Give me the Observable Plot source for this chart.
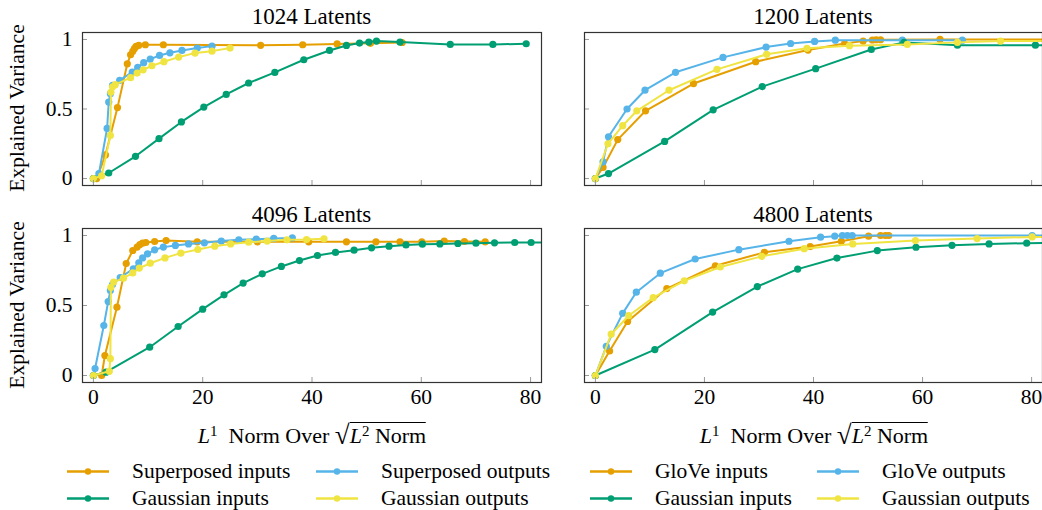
<!DOCTYPE html>
<html><head><meta charset="utf-8">
<script src="https://cdn.jsdelivr.net/npm/d3@7"></script>
<script src="https://cdn.jsdelivr.net/npm/@observablehq/plot@0.6"></script>
<style>
body{margin:0;background:#fff;}
#root{position:relative;width:1042px;height:510px;overflow:hidden;font-family:"Liberation Serif","DejaVu Serif",serif;color:#000;background:#fff;}
.abs{position:absolute;white-space:nowrap;}
.title{font-size:23px;transform:translate(-50%,-50%);}
.ylab{font-size:21.5px;transform:translate(-50%,-50%) rotate(-90deg);}
.xlab{font-size:22px;transform:translate(-50%,-50%);}
.leg{font-size:21.5px;display:flex;align-items:center;transform:translateY(-50%);}
.leg svg{margin-right:23px;}
sup{font-size:15px;vertical-align:0.5em;line-height:0;}
.rsign{font-size:27px;line-height:0;position:relative;top:1px;}
.rad{border-top:1.3px solid #000;padding-top:0px;}
</style></head>
<body><div id="root"></div>
<script>
// ---- labels / ticks ----
const xTicks = [0, 20, 40, 60, 80];
const yTicks = [0, 0.5, 1];
const panelTitles = ["1024 Latents", "1200 Latents", "4096 Latents", "4800 Latents"];
const legendLeft = ["Superposed inputs", "Superposed outputs", "Gaussian inputs", "Gaussian outputs"];
const legendRight = ["GloVe inputs", "GloVe outputs", "Gaussian inputs", "Gaussian outputs"];
const seriesColors = ["#E69F00", "#56B4E9", "#009E73", "#F0E442"];
const yTitle = "Explained Variance";

// ---- data: [L1/sqrt(L2), explained variance] ----
// 1024 latents
const sup_in_1024 = [[0,0],[0.6,0],[2.2,0.17],[4.4,0.51],[6.2,0.825],[6.8,0.89],[7.2,0.915],[7.5,0.935],[7.8,0.95],[8.3,0.958],[9.5,0.962],[12.8,0.962],[30.6,0.958],[38.3,0.962],[44.6,0.968],[50.7,0.972],[56.5,0.978]];
const sup_out_1024 = [[0,0],[1.0,0.035],[2.5,0.36],[2.8,0.55],[3.1,0.61],[3.5,0.67],[4.8,0.706],[7.1,0.766],[8.1,0.80],[9.2,0.833],[10.4,0.859],[12.1,0.885],[14.0,0.904],[16.2,0.921],[19.0,0.938],[21.7,0.952]];
const gau_in_1024 = [[0,0],[2.8,0.04],[7.7,0.16],[12.0,0.287],[16.1,0.407],[20.2,0.514],[24.3,0.605],[28.4,0.687],[33.2,0.763],[38.5,0.854],[43.2,0.921],[46.3,0.957],[48.7,0.974],[50.4,0.981],[51.8,0.988],[56.1,0.981],[65.3,0.964],[73.1,0.964],[79.2,0.969]];
const gau_out_1024 = [[0,0],[1.5,0.02],[3.1,0.31],[3.2,0.62],[3.5,0.66],[4.0,0.675],[6.8,0.725],[8.0,0.758],[9.1,0.782],[10.7,0.811],[12.9,0.84],[15.6,0.873],[18.6,0.902],[21.7,0.916],[25.0,0.938]];
// 1200 latents
const glove_in_1200 = [[0,0],[1.4,0.08],[4.1,0.28],[9.2,0.487],[18.0,0.683],[29.4,0.84],[39.0,0.924],[45.7,0.971],[49.1,0.988],[50.8,0.996],[51.5,0.998],[52.3,0.998],[63.2,1.0],[90,1.0]];
const glove_out_1200 = [[0,0],[1.4,0.12],[2.4,0.30],[5.8,0.50],[9.1,0.635],[14.7,0.764],[23.4,0.871],[31.3,0.945],[35.8,0.971],[40.2,0.986],[44.0,0.995],[56.3,0.995],[67.3,0.995]];
const gau_in_1200 = [[0,0],[2.4,0.036],[12.7,0.267],[21.6,0.494],[30.6,0.661],[40.4,0.79],[50.6,0.928],[56.6,0.979],[66.4,0.959],[80.7,0.959],[90,0.959]];
const gau_out_1200 = [[0,0],[2.3,0.25],[5.0,0.38],[7.6,0.487],[13.5,0.635],[22.3,0.785],[31.4,0.893],[38.8,0.936],[46.6,0.955],[57.2,0.964],[66.4,0.979],[74.3,0.988],[90,0.99]];
// 4096 latents
const sup_in_4096 = [[1.5,0],[2.1,0.143],[4.3,0.488],[6.0,0.80],[7.2,0.893],[8.0,0.917],[8.5,0.935],[9.0,0.945],[9.6,0.95],[11.2,0.957],[13.3,0.964],[19.0,0.955],[30.0,0.955],[39.4,0.955],[46.3,0.955],[51.7,0.955],[56.1,0.955],[60.1,0.955],[64.2,0.96],[67.9,0.957],[71.7,0.955]];
const sup_out_4096 = [[0,0],[0.3,0.05],[1.9,0.357],[2.7,0.528],[3.1,0.607],[3.5,0.65],[4.9,0.70],[7.3,0.762],[8.3,0.805],[9.0,0.84],[9.9,0.869],[11.2,0.898],[12.8,0.917],[15.0,0.929],[17.4,0.94],[20.3,0.948],[23.4,0.96],[26.6,0.969],[29.8,0.974],[33.0,0.979],[36.4,0.983]];
const gau_in_4096 = [[0,0],[2.3,0.024],[10.3,0.202],[15.5,0.35],[20.0,0.474],[23.9,0.576],[27.4,0.66],[30.9,0.726],[34.4,0.779],[37.7,0.821],[41.0,0.857],[44.3,0.879],[47.7,0.895],[50.9,0.912],[54.1,0.924],[57.2,0.933],[60.2,0.938],[63.4,0.94],[66.7,0.943],[70.0,0.945],[73.4,0.948],[77.1,0.95],[80.1,0.95],[90,0.95]];
const gau_out_4096 = [[0,0],[2.9,0.03],[3.1,0.12],[3.2,0.63],[3.7,0.667],[5.5,0.695],[7.2,0.733],[8.4,0.767],[10.4,0.802],[13.1,0.84],[16.0,0.874],[19.1,0.9],[22.2,0.924],[25.1,0.94],[28.4,0.952],[31.8,0.96],[35.4,0.969],[39.0,0.971],[42.2,0.976]];
// 4800 latents
const glove_in_4800 = [[0,0],[2.6,0.175],[5.9,0.386],[13.1,0.621],[22.0,0.784],[31.0,0.88],[39.4,0.921],[45.1,0.959],[50.1,0.995],[52.3,1.0],[53.2,1.0],[53.8,1.0]];
const glove_out_4800 = [[0,0],[2.0,0.209],[5.0,0.444],[7.5,0.595],[11.9,0.731],[18.3,0.832],[26.3,0.899],[35.5,0.959],[41.3,0.988],[43.9,0.995],[45.3,1.0],[46.2,1.0],[47.1,1.0],[80.1,1.0],[90,1.0]];
const gau_in_4800 = [[0,0],[10.9,0.185],[21.5,0.453],[29.7,0.635],[37.1,0.76],[44.3,0.839],[51.7,0.892],[58.8,0.916],[65.4,0.93],[72.2,0.94],[79.1,0.945],[90,0.95]];
const gau_out_4800 = [[0,0],[2.9,0.295],[6.1,0.427],[10.6,0.556],[16.3,0.676],[22.9,0.775],[30.5,0.851],[38.3,0.906],[47.2,0.94],[58.7,0.964],[70.0,0.978],[80.1,0.99],[90,0.99]];

const root = document.getElementById("root");

function panelPlot(series, o) {
  const marks = [];
  series.forEach((s, i) => {
    marks.push(Plot.line(s, {x: d => d[0], y: d => d[1], stroke: seriesColors[i], strokeWidth: 2, clip: true}));
    marks.push(Plot.dot(s, {x: d => d[0], y: d => d[1], r: 3.6, fill: seriesColors[i], clip: true}));
  });
  marks.push(Plot.axisX(xTicks, {anchor: "bottom", tickSize: -5, tickPadding: 11, stroke: "#999", label: null,
    tickFormat: o.xLabels ? (d => String(d)) : (() => "")}));
  marks.push(Plot.axisY(yTicks, {anchor: "left", tickSize: -5, tickPadding: 15, stroke: "#999", label: null,
    tickFormat: o.yLabels ? (d => String(d)) : (() => "")}));
  marks.push(Plot.frame({stroke: "#333", strokeWidth: 1.2}));
  const svg = Plot.plot({
    width: o.width, height: o.height,
    marginLeft: o.ml, marginRight: o.mr, marginTop: o.mt, marginBottom: o.mb,
    x: {domain: [-2, 82]}, y: {domain: [-0.05, 1.05]},
    style: {fontFamily: "'Liberation Serif', serif", fontSize: "21.5px", background: "transparent", overflow: "visible", color: "#000"},
    marks
  });
  svg.style.position = "absolute";
  svg.style.left = o.left + "px";
  svg.style.top = o.top + "px";
  root.appendChild(svg);
}

const leftW = {left: 0, width: 548, ml: 82, mr: 7};
const rightW = {left: 560, width: 482, ml: 24, mr: 0};
const topH = {top: 26, height: 165, mt: 6, mb: 6};
const botH = {top: 222, height: 186, mt: 6, mb: 26};

panelPlot([sup_in_1024, sup_out_1024, gau_in_1024, gau_out_1024], {...leftW, ...topH, xLabels: false, yLabels: true});
panelPlot([glove_in_1200, glove_out_1200, gau_in_1200, gau_out_1200], {...rightW, ...topH, xLabels: false, yLabels: false});
panelPlot([sup_in_4096, sup_out_4096, gau_in_4096, gau_out_4096], {...leftW, ...botH, xLabels: true, yLabels: true});
panelPlot([glove_in_4800, glove_out_4800, gau_in_4800, gau_out_4800], {...rightW, ...botH, xLabels: true, yLabels: false});

function addText(cls, html, x, y) {
  const d = document.createElement("div");
  d.className = "abs " + cls;
  d.innerHTML = html;
  d.style.left = x + "px";
  d.style.top = y + "px";
  root.appendChild(d);
  return d;
}
// titles
addText("title", panelTitles[0], 311.5, 17);
addText("title", panelTitles[1], 813, 17);
addText("title", panelTitles[2], 311.5, 215);
addText("title", panelTitles[3], 813, 215);
// y titles
addText("ylab", yTitle, 17, 108);
addText("ylab", yTitle, 17, 305);
// x titles
const xTitleHtml = '<i>L</i><sup>1</sup>&nbsp; Norm Over <span class="rsign">&radic;</span><span class="rad"><i>L</i><sup>2</sup> Norm</span>';
addText("xlab", xTitleHtml, 312, 436);
addText("xlab", xTitleHtml, 814, 436);

// legends
function swatch(color) {
  return `<svg width="42" height="20"><line x1="0" y1="10" x2="42" y2="10" stroke="${color}" stroke-width="2.5"/><circle cx="21" cy="10" r="3.2" fill="${color}"/></svg>`;
}
const legCols = [67, 316, 590, 817];
const legRows = [471, 498];
[legendLeft, legendRight].forEach((names, g) => {
  names.forEach((name, i) => {
    const col = g * 2 + (i % 2);
    const row = Math.floor(i / 2);
    addText("leg", swatch(seriesColors[i]) + `<span>${name}</span>`, legCols[col], legRows[row]);
  });
});
</script>
</body></html>
